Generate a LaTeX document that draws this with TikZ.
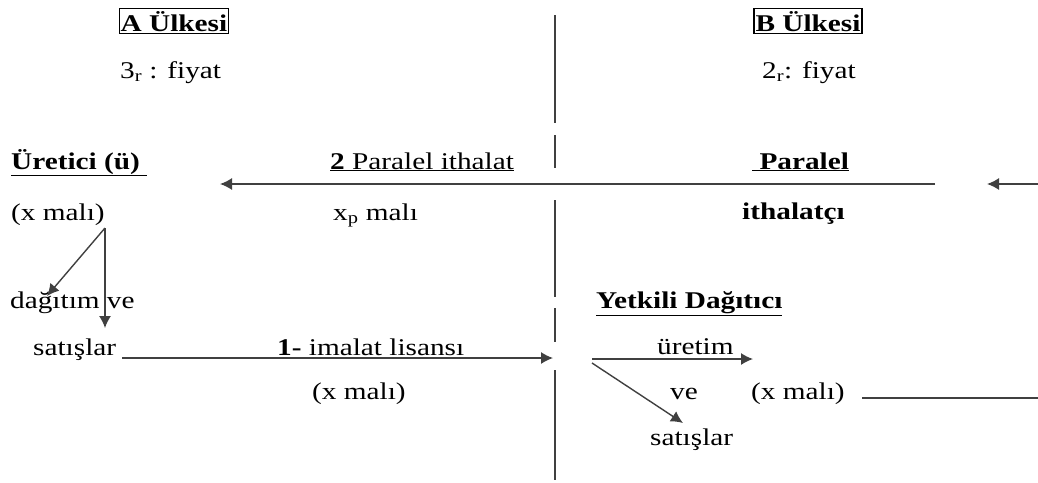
\documentclass[tikz,border=0pt]{standalone}
\usepackage{fontspec}
\setmainfont[FakeStretch=1.22]{Liberation Serif}
\usetikzlibrary{arrows.meta}
\begin{document}
\begin{tikzpicture}[x=1pt,y=-1pt,
  txt/.style={inner sep=0pt,anchor=base west,font=\fontsize{24}{28}\selectfont,text=black},
  boxed/.style={inner sep=1.5pt,anchor=center,font=\fontsize{24}{28}\selectfont,text height=21pt,text depth=1pt,draw,line width=1.3pt},
  conn/.style={line width=1.4pt,draw=black!75},
  arr/.style={conn,-{Latex[length=12pt,width=12pt]}},
  axis/.style={line width=1.4pt,draw=black!75}]
\useasboundingbox (0,0) rectangle (1038,482);
% country labels
\node[boxed] (A) at (174,21) {\textbf{A Ülkesi}};
\node[txt] (Afiyat) at (120,78) {3\textsubscript{r} : fiyat};
\node[boxed] (B) at (808,21) {\textbf{B Ülkesi}};
\node[txt] (Bfiyat) at (762,78) {2\textsubscript{r}: fiyat};
% row 1
\node[txt] (uretici) at (11,169) {\underline{\textbf{Üretici (ü)\ }}};
\node[txt] (paralelith) at (330,169) {\underline{\textbf{2} Paralel ithalat}};
\node[txt] (paralel) at (752,169) {\underline{\textbf{\ Paralel}}};
\node[txt] (ithalatci) at (742,219) {\textbf{ithalatçı}};
\node[txt] (xmaliA) at (11,220) {(x malı)};
\node[txt] (xpmali) at (333,220) {x\textsubscript{p} malı};
% row 2 left
\node[txt] (dagitim) at (10,308) {dağıtım ve};
\node[txt] (satislarA) at (33,355) {satışlar};
\node[txt] (imalat) at (277,355) {\textbf{1-} imalat lisansı};
\node[txt] (xmaliM) at (312,399) {(x malı)};
% row 2 right
\node[txt] (yetkili) at (596,308) {\underline{\textbf{Yetkili Dağıtıcı}}};
\node[txt] (uretim) at (657,354) {üretim};
\node[txt] (ve) at (670,399) {ve};
\node[txt] (xmaliB) at (751,399) {(x malı)};
\node[txt] (satislarB) at (650,445) {satışlar};
% coordinates
\coordinate (t1) at (935,184); \coordinate (t2) at (220,184);
\coordinate (r1) at (1038,184); \coordinate (r2) at (987,184);
\coordinate (br) at (105,228); \coordinate (bd) at (47,296); \coordinate (bv) at (105,328);
\coordinate (l1) at (122,358); \coordinate (l2) at (553,358);
\coordinate (p1) at (592,359); \coordinate (p2) at (753,359);
\coordinate (q1) at (592,363); \coordinate (q2) at (683,423);
\coordinate (e1) at (862,398); \coordinate (e2) at (1038,398);
\coordinate (v1) at (555,15); \coordinate (v2) at (555,123);
\coordinate (v3) at (555,135); \coordinate (v4) at (555,168);
\coordinate (v5) at (555,200); \coordinate (v6) at (555,297);
\coordinate (v7) at (555,308); \coordinate (v8) at (555,342);
\coordinate (v9) at (555,370); \coordinate (v10) at (555,480);
% connectors
\draw[arr] (t1) -- (t2);
\draw[arr] (r1) -- (r2);
\draw[arr] (br) -- (bd);
\draw[arr] (br) -- (bv);
\draw[arr] (l1) -- (l2);
\draw[arr] (p1) -- (p2);
\draw[arr] (q1) -- (q2);
\draw[conn] (e1) -- (e2);
% dividing line
\draw[axis] (v1) -- (v2);
\draw[axis] (v3) -- (v4);
\draw[axis] (v5) -- (v6);
\draw[axis] (v7) -- (v8);
\draw[axis] (v9) -- (v10);
\end{tikzpicture}
\end{document}
